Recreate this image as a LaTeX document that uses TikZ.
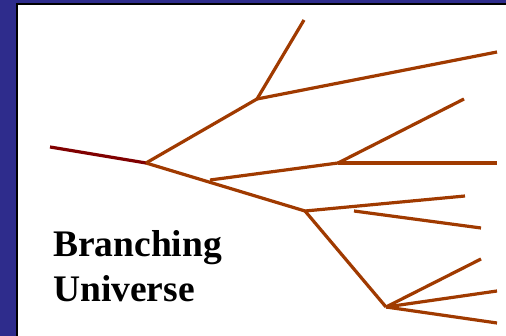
\documentclass[tikz,border=0pt]{standalone}
\usepackage{fontspec}
\setmainfont{Liberation Serif}
\definecolor{frameblue}{RGB}{46,44,140}
\definecolor{branch}{RGB}{160,58,0}
\definecolor{stem}{RGB}{128,0,0}
\begin{document}
\begin{tikzpicture}[x=1pt,y=-1pt,
  br/.style={draw=branch,line width=3.2pt},
  st/.style={draw=stem,line width=3.2pt},
  lbl/.style={anchor=base west,inner sep=0pt,font=\fontsize{37.5}{45}\selectfont\bfseries}]
\useasboundingbox (0,0) rectangle (506,336);
\fill[frameblue] (0,0) rectangle (506,336);
\fill[black] (16,3) rectangle (506,336);
\fill[white] (18,5) rectangle (506,336);
% coordinates
\coordinate (s0) at (50,147);
\coordinate (A) at (146,163);
\coordinate (B) at (257,99);
\coordinate (Bt) at (304,20);
\coordinate (Br) at (497,52);
\coordinate (C) at (305,211);
\coordinate (D0) at (210,180);
\coordinate (D) at (338,163);
\coordinate (Du) at (464,99);
\coordinate (Dr) at (497,163);
\coordinate (Cr) at (465,196);
\coordinate (F0) at (354,211);
\coordinate (F1) at (481,228);
\coordinate (E) at (386,307);
\coordinate (E1) at (481,259);
\coordinate (E2) at (497,291);
\coordinate (E3) at (497,323);
% lines
\draw[st] (s0) -- (A);
\draw[br] (A) -- (B);
\draw[br] (B) -- (Bt);
\draw[br] (B) -- (Br);
\draw[br] (A) -- (C);
\draw[br] (D0) -- (D);
\draw[br] (D) -- (Du);
\draw[br] (D) -- (Dr);
\draw[br] (C) -- (Cr);
\draw[br] (F0) -- (F1);
\draw[br] (C) -- (E);
\draw[br] (E) -- (E1);
\draw[br] (E) -- (E2);
\draw[br] (E) -- (E3);
\node[lbl] (t1) at (53,257) {Branching};
\node[lbl] (t2) at (53,302) {Universe};
\end{tikzpicture}
\end{document}
